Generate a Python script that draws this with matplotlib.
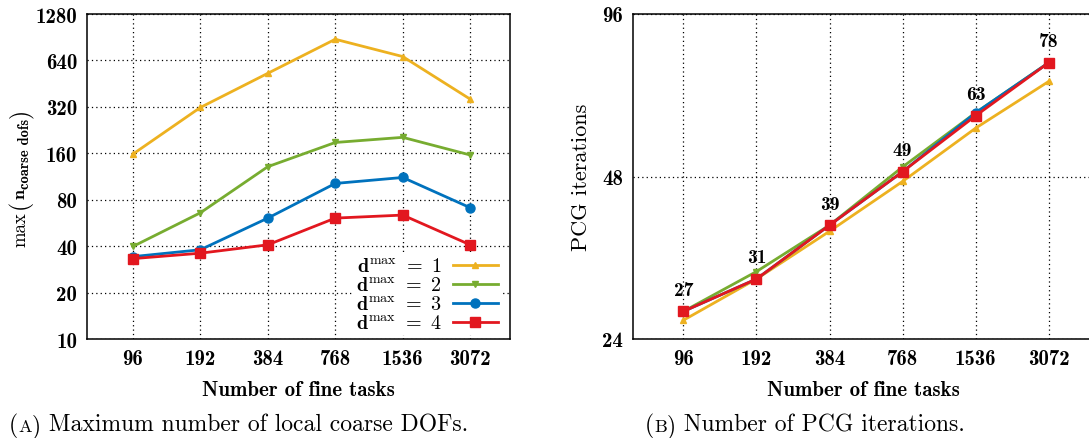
import matplotlib
matplotlib.use("Agg")
import matplotlib.pyplot as plt
import numpy as np

plt.rcParams['mathtext.fontset'] = 'cm'
plt.rcParams['axes.unicode_minus'] = False
plt.rcParams['axes.formatter.use_mathtext'] = True

# data
tasks = ['96', '192', '384', '768', '1536', '3072']
coarse_d1 = [158, 317, 528, 878, 678, 359]
coarse_d2 = [39.8, 65.8, 131, 188, 203, 156]
coarse_d3 = [34.2, 37.9, 60.8, 102, 111.5, 71]
coarse_d4 = [33.2, 36, 40.8, 60.8, 63.6, 40.8]

pcg_d1 = [26, 31, 38, 47, 59, 72]
pcg_d2 = [27, 32, 39, 50, 63, 78]
pcg_d3 = [27, 31, 39, 49, 63, 78]
pcg_d4 = [27, 31, 39, 49, 62.2, 78]
pcg_labels = ['27', '31', '39', '49', '63', '78']

left_yticks = [10, 20, 40, 80, 160, 320, 640, 1280]
right_yticks = [24, 48, 96]

colors = ['#edb120', '#77ac30', '#0072bd', '#e2171f']
markers = ['^', 'v', 'o', 's']
msizes = [5, 5, 6.5, 7.5]
names = [r'$\mathbf{d}^{\mathrm{max}}\ =\ \mathbf{%d}$' % k for k in range(1, 5)]

BOLD = 'cmb10'
REG = 'cmr10'
FS = 15

fig = plt.figure(figsize=(10.89, 4.39), dpi=100)
W, H = 1089, 439
ax1 = fig.add_axes([87 / W, 99 / H, 423 / W, 325 / H])
ax2 = fig.add_axes([633 / W, 99 / H, 461 / W, 325 / H])
renderer = fig.canvas.get_renderer()

x = np.arange(len(tasks))


def style_axes(ax, yticks, xlim, ylim):
    ax.set_yscale('log', base=2)
    ax.set_xlim(*xlim)
    ax.set_ylim(*ylim)
    ax.set_xticks(x)
    ax.set_xticklabels(tasks, fontfamily=BOLD, fontsize=FS)
    ax.set_yticks(yticks)
    ax.set_yticklabels([str(t) for t in yticks], fontfamily=BOLD, fontsize=FS)
    ax.minorticks_off()
    ax.tick_params(length=0, pad=7)
    ax.grid(True, color='black', linestyle=(0, (1, 2.5)), linewidth=0.9)
    for s in ax.spines.values():
        s.set_linewidth(1.1)
    ax.set_axisbelow(True)
    ax.set_xlabel('Number of fine tasks', fontfamily=BOLD, fontsize=FS, labelpad=9)


def put_pieces(pieces, x0, y0, vertical=False):
    # place text pieces one after another, measured in pixels (origin top-left)
    pos = y0 if vertical else x0
    for txt, fam, size, shift, gap in pieces:
        pos += gap
        if vertical:
            t = fig.text((x0 + shift) / W, 1 - pos / H, txt, fontfamily=fam,
                         fontsize=size, rotation=90, rotation_mode='anchor',
                         ha='left', va='baseline')
            pos -= t.get_window_extent(renderer).height
        else:
            t = fig.text(pos / W, 1 - (y0 + shift) / H, txt, fontfamily=fam,
                         fontsize=size, ha='left', va='baseline')
            pos += t.get_window_extent(renderer).width


# (A)
style_axes(ax1, left_yticks, (-0.68, 5.59), (10, 1280))
for ys, c, m, ms, nm in zip([coarse_d1, coarse_d2, coarse_d3, coarse_d4],
                            colors, markers, msizes, names):
    ax1.plot(x, ys, color=c, marker=m, markersize=ms, linewidth=2, label=nm)
leg = ax1.legend(loc='lower right', bbox_to_anchor=(0.985, 0.0), markerfirst=False,
                 fontsize=14.5, frameon=True, fancybox=False, framealpha=1,
                 edgecolor='none', facecolor='white', handlelength=2.2,
                 labelspacing=0.0, borderpad=0.1, handletextpad=0.6,
                 borderaxespad=0.2)

# y label of (A): max ( n_{coarse dofs} )
put_pieces([('max', REG, 13.5, 0, 0),
            ('(', REG, 17, 1, -3),
            ('n', BOLD, 13, 0, -1),
            ('coarse dofs', BOLD, 10.5, 4, 0),
            (')', REG, 17, 1, -1)], 25, 247, vertical=True)

# (B)
style_axes(ax2, right_yticks, (-0.69, 5.62), (24, 96))
for ys, c, m, ms in zip([pcg_d1, pcg_d2, pcg_d3, pcg_d4], colors, markers, msizes):
    ax2.plot(x, ys, color=c, marker=m, markersize=ms, linewidth=2)
for xi, yi, lab in zip(x, pcg_d4, pcg_labels):
    ax2.annotate(lab, (xi, yi), xytext=(0, 9), textcoords='offset points',
                 ha='center', va='bottom', fontfamily=BOLD, fontsize=14)
ax2.set_ylabel('PCG iterations', fontfamily=REG, fontsize=FS + 1, labelpad=8)

# captions, with small-caps letter
put_pieces([('(', REG, 17, 0, 0), ('A', REG, 13, 0, 0),
            (')', REG, 17, 0, 0),
            (' Maximum number of local coarse DOFs.', REG, 17, 0, 0)], 9, 432)
put_pieces([('(', REG, 17, 0, 0), ('B', REG, 13, 0, 0),
            (')', REG, 17, 0, 0),
            (' Number of PCG iterations.', REG, 17, 0, 0)], 645, 432)

fig.savefig('out.png', dpi=100)
